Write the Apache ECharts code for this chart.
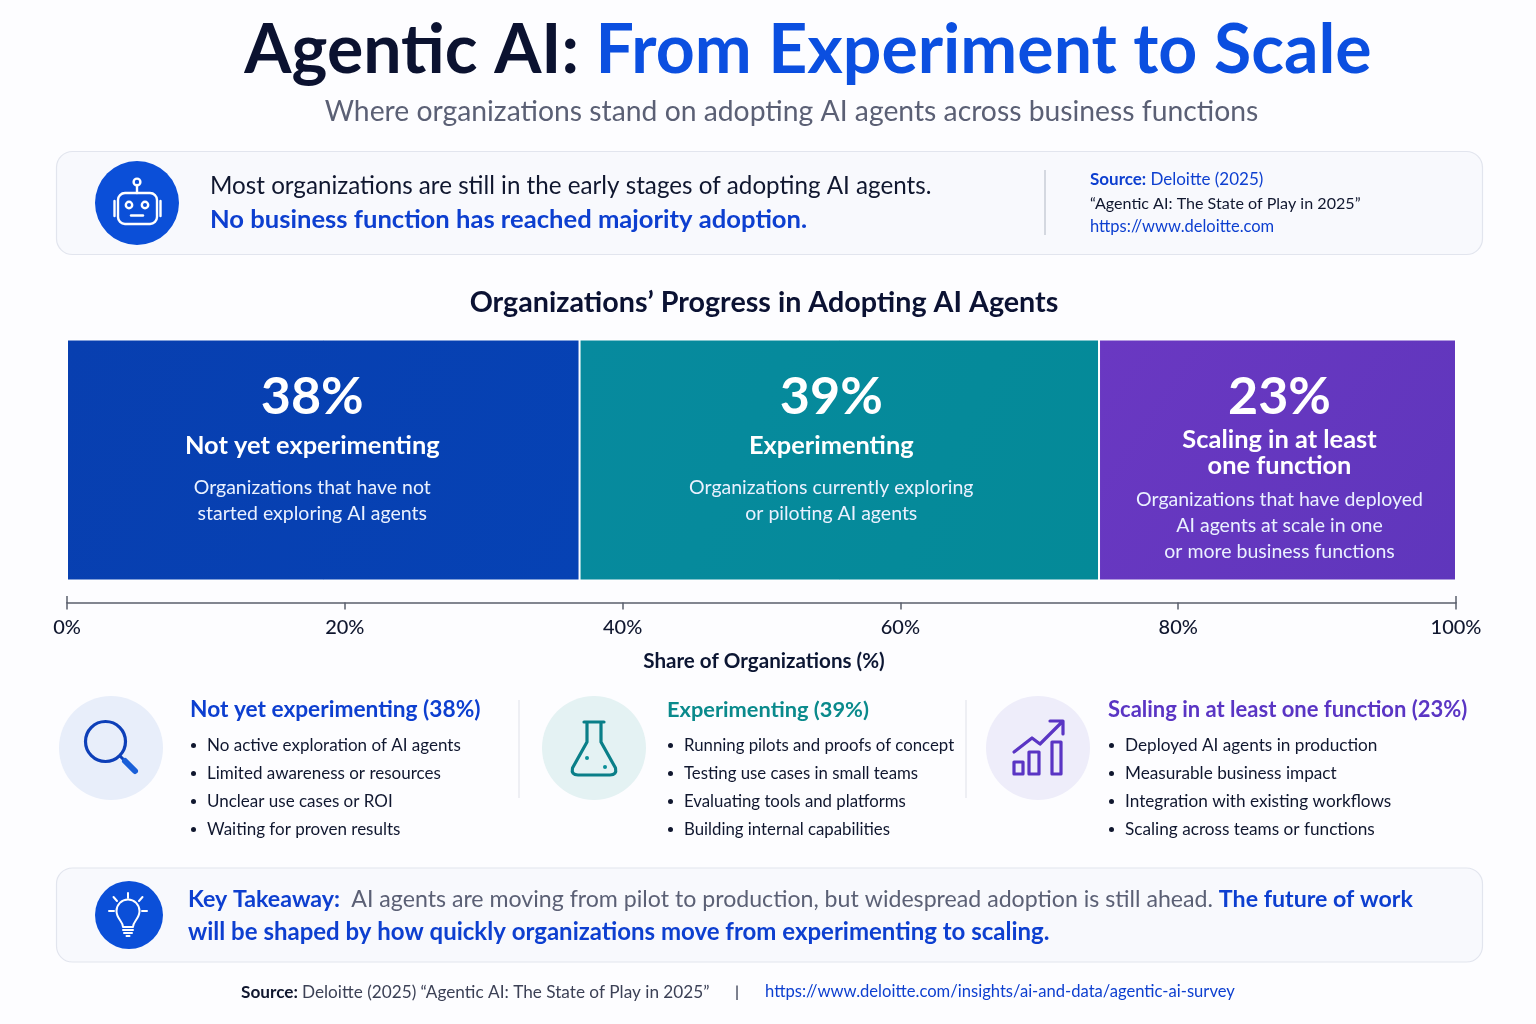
<!DOCTYPE html>
<html><head><meta charset="utf-8">
<style>html,body{margin:0;padding:0;background:#fdfdff}#c{width:1536px;height:1024px}</style>
<script src="https://cdn.jsdelivr.net/npm/echarts@6/dist/echarts.min.js"></script>
</head><body><div id="c"></div>
<script>
// ---- data ----
const categories = ['Not yet experimenting', 'Experimenting', 'Scaling in at least one function'];
const printedShares = [38, 39, 23];               // the percentages printed in the picture
const drawnShares = [36.9, 37.4, 25.7];           // bar lengths as drawn against the picture's axis
const tickValues = [0, 20, 40, 60, 80, 100];
const barNameLines = [['Not yet experimenting'], ['Experimenting'], ['Scaling in at least', 'one function']];
const barDescLines = [
  ['Organizations that have not', 'started exploring AI agents'],
  ['Organizations currently exploring', 'or piloting AI agents'],
  ['Organizations that have deployed', 'AI agents at scale in one', 'or more business functions']
];
const bullets = [
  ['No active exploration of AI agents', 'Limited awareness or resources', 'Unclear use cases or ROI', 'Waiting for proven results'],
  ['Running pilots and proofs of concept', 'Testing use cases in small teams', 'Evaluating tools and platforms', 'Building internal capabilities'],
  ['Deployed AI agents in production', 'Measurable business impact', 'Integration with existing workflows', 'Scaling across teams or functions']
];

const FONT = 'Lato';
const BLUE = '#0b4fe0', DEEP = '#0d3fd0', TEAL = '#0a8a8c', PURPLE = '#5a35c4', GREY = '#5b6075';
const barFill = [
  ['#083fb0', '#0642b4'], ['#078a9e', '#048a98'], ['#6a38c2', '#5f36bc']
];
const fs = (size, weight, fill) => ({ fontFamily: FONT, fontSize: size, fontWeight: weight, fill });
function txt(x, y, text, size, weight, fill, align) {
  return { type: 'text', x, y, silent: true, style: { text, ...fs(size, weight, fill), align: align || 'left', verticalAlign: 'middle' } };
}
function rich(x, y, text, richStyles, align) {
  return { type: 'text', x, y, silent: true, style: { text, fontFamily: FONT, fontSize: 20, rich: richStyles, align: align || 'left', verticalAlign: 'middle' } };
}
const stroke = (c, w) => ({ fill: 'none', stroke: c, lineWidth: w, lineCap: 'round', lineJoin: 'round' });
let pathCount = 0;
function path(d, st) {
  const name = 'iconPath' + (pathCount++);
  echarts.graphic.registerShape(name, echarts.graphic.extendPath(d));
  return { type: name, silent: true, style: st };
}
const circ = (cx, cy, r, st) => ({ type: 'circle', silent: true, shape: { cx, cy, r }, style: st });
const line = (x1, y1, x2, y2, c, w) => ({ type: 'line', silent: true, shape: { x1, y1, x2, y2 }, style: { stroke: c, lineWidth: w } });
const card = (x, y, w, h) => ({ type: 'rect', silent: true, shape: { x, y, width: w, height: h, r: 16 }, style: { fill: '#f8f9fd', stroke: '#e2e5ee', lineWidth: 1.2 } });

const g = [];
// header
g.push(rich(808, 51, '{a|Agentic AI: }{b|From Experiment to Scale}', { a: fs(68, 700, '#0b1230'), b: fs(68, 700, BLUE) }, 'center'));
g.push(txt(791.5, 112, 'Where organizations stand on adopting AI agents across business functions', 28.3, 400, GREY, 'center'));
// top card
g.push(card(56.5, 151.5, 1426, 103));
g.push(circ(137, 203, 42, { fill: '#0b4fd8' }));
const wh = stroke('#ffffff', 2.4);
g.push({ type: 'rect', silent: true, shape: { x: 118, y: 193, width: 39, height: 31, r: 7 }, style: wh });
g.push(path('M114.5 201 V216 M160.5 201 V216 M137 193 V185', wh));
g.push(circ(137, 182, 3.4, wh));
g.push(circ(129, 205, 3.2, wh));
g.push(circ(145, 205, 3.2, wh));
g.push(path('M131 215.5 H143', wh));
g.push(txt(210, 186, 'Most organizations are still in the early stages of adopting AI agents.', 24.2, 400, '#10172f'));
g.push(txt(210, 220, 'No business function has reached majority adoption.', 25.6, 700, DEEP));
g.push(line(1045, 170, 1045, 235, '#c9ccd6', 1.5));
g.push(rich(1090, 180, '{a|Source: }{b|Deloitte (2025)}', { a: fs(17, 700, DEEP), b: fs(17, 400, DEEP) }));
g.push(txt(1090, 204, '\u201CAgentic AI: The State of Play in 2025\u201D', 16.1, 400, '#10172f'));
g.push(txt(1090, 227, 'https://www.deloitte.com', 16.5, 400, DEEP));
// chart title
g.push(txt(764, 303, 'Organizations\u2019 Progress in Adopting AI Agents', 28.7, 700, '#0b1233', 'center'));
// axis end ticks rising above the axis line
g.push(line(67, 596, 67, 603, '#5a5f6c', 1.5));
g.push(line(1456, 596, 1456, 603, '#5a5f6c', 1.5));
// lower columns
const colX = [190, 667, 1108], circX = [111, 594, 1038], circFill = ['#e8eefa', '#e4f2f3', '#eeedfa'], headFill = [DEEP, TEAL, PURPLE], headSize = [22.7, 21.8, 22], bulletSize = [17, 16.8, 17.2];
categories.forEach((c, i) => {
  g.push(circ(circX[i], 748, 52, { fill: circFill[i] }));
  g.push(txt(colX[i], 710, c + ' (' + printedShares[i] + '%)', headSize[i], 700, headFill[i]));
  bullets[i].forEach((b, j) => {
    const y = 745 + j * 28;
    g.push(circ(colX[i] + 3.5, y + 0.5, 2.5, { fill: '#10172f' }));
    g.push(txt(colX[i] + 17, y + 0.5, b, bulletSize[i], 400, '#10172f'));
  });
});
g.push(line(519, 700, 519, 798, '#e8eaf0', 1.5));
g.push(line(966, 700, 966, 798, '#e8eaf0', 1.5));
// magnifier
g.push(circ(105.5, 741.5, 20, stroke('#0d3fb8', 3.2)));
g.push(path('M120 756 L125 761', stroke('#0d3fb8', 3)));
g.push(path('M125 761 L135 771', stroke('#1a5fd8', 6)));
// flask
const ts = stroke('#0a7f88', 3.2);
g.push(path('M584 722 H604 M587 722 V742 L572.5 768 Q571 775 578 775 H610 Q617 775 615.5 768 L601 742 V722', ts));
g.push(circ(587, 758, 2, { fill: '#0a8f98' }));
g.push(circ(605, 767, 2, { fill: '#0a8f98' }));
// growth chart
const ps = stroke(PURPLE, 3.2);
g.push(path('M1014 752 L1032 738 L1040 744 L1062 722 M1050 721 H1063 V734', ps));
g.push({ type: 'rect', silent: true, shape: { x: 1014, y: 762, width: 9, height: 12 }, style: ps });
g.push({ type: 'rect', silent: true, shape: { x: 1029, y: 752, width: 10, height: 22 }, style: ps });
g.push({ type: 'rect', silent: true, shape: { x: 1052, y: 742, width: 9, height: 32 }, style: ps });
// takeaway card
g.push(card(56.5, 868, 1426, 94));
g.push(circ(129, 915, 34, { fill: '#0b4fd8' }));
const bw = stroke('#ffffff', 2);
g.push(path('M123 927 C123 921 116.5 919 116.5 911 A11.5 11.5 0 0 1 139.5 911 C139.5 919 133 921 133 927 Z', bw));
g.push(path('M123 930 H133 M124 933 H132 M126.5 936 H129.5 M128 893 V898 M113.5 897 L117 901 M142.5 897 L139 901 M109 911 H114 M147 911 H142', bw));
g.push(rich(188, 900, '{a|Key Takeaway:  }{b|AI agents are moving from pilot to production, but widespread adoption is still ahead. }{a|The future of work}',
  { a: fs(23.2, 700, DEEP), b: fs(23.15, 400, GREY) }));
g.push(txt(188, 932, 'will be shaped by how quickly organizations move from experimenting to scaling.', 24, 700, DEEP));
// footer
g.push(rich(241, 992, '{a|Source: }{b|Deloitte (2025) \u201CAgentic AI: The State of Play in 2025\u201D}', { a: fs(17.2, 700, '#10172f'), b: fs(17.2, 400, '#3c4156') }));
g.push(txt(737, 992, '|', 16, 400, '#10172f', 'center'));
g.push(txt(765, 992, 'https://www.deloitte.com/insights/ai-and-data/agentic-ai-survey', 16.6, 400, DEEP));

// bar labels
const labelRich = {
  pct: { fontFamily: FONT, fontSize: 52, fontWeight: 700, color: '#fff', lineHeight: 60 },
  name: { fontFamily: FONT, fontSize: 25.4, fontWeight: 700, color: '#fff', lineHeight: 26 },
  name1: { fontFamily: FONT, fontSize: 25.4, fontWeight: 700, color: '#fff', lineHeight: 38 },
  gap: { fontSize: 8, lineHeight: 10 },
  gap3: { fontSize: 6, lineHeight: 8 },
  desc: { fontFamily: FONT, fontSize: 19.5, fontWeight: 400, color: '#eaf1ff', lineHeight: 26 }
};
const labelOffsets = [[-11, -13], [-8, -13], [2, 6]];
const series = categories.map((c, i) => ({
  name: c, type: 'bar', stack: 'all', barWidth: '100%', silent: true,
  data: [drawnShares[i]],
  itemStyle: {
    color: { type: 'linear', x: 0, y: 0, x2: 1, y2: 1, colorStops: [{ offset: 0, color: barFill[i][0] }, { offset: 1, color: barFill[i][1] }] },
    borderColor: '#fff', borderWidth: 1
  },
  label: {
    show: true, position: 'inside', offset: labelOffsets[i], align: 'center', verticalAlign: 'middle',
    formatter: () => {
      const two = barNameLines[i].length > 1;
      return ['{pct|' + printedShares[i] + '%}']
        .concat(barNameLines[i].map(t => '{' + (two ? 'name' : 'name1') + '|' + t + '}'))
        .concat([two ? '{gap3| }' : '{gap| }'])
        .concat(barDescLines[i].map(t => '{desc|' + t + '}')).join('\n');
    },
    rich: labelRich
  }
}));

const chart = echarts.init(document.getElementById('c'), null, { width: 1536, height: 1024, renderer: 'canvas' });
chart.setOption({
  animation: false,
  backgroundColor: '#fdfdff',
  grid: { left: 67, right: 80, top: 339.5, bottom: 1024 - 580.5, containLabel: false },
  xAxis: {
    type: 'value', min: tickValues[0], max: tickValues[tickValues.length - 1], interval: 20,
    position: 'bottom', offset: 22,
    name: 'Share of Organizations (%)', nameLocation: 'middle', nameGap: 48,
    nameTextStyle: { fontFamily: FONT, fontSize: 20.6, fontWeight: 700, color: '#0c1633', padding: [0, 0, 0, 5] },
    axisLine: { show: true, onZero: false, lineStyle: { color: '#5a5f6c', width: 1.5 } },
    axisTick: { show: true, length: 7, lineStyle: { color: '#5a5f6c', width: 1.5 } },
    axisLabel: { formatter: '{value}%', margin: 15, fontFamily: FONT, fontSize: 20, fontWeight: 500, color: '#10172f', showMinLabel: true, showMaxLabel: true, hideOverlap: false },
    splitLine: { show: false }
  },
  yAxis: { type: 'category', data: ['Organizations'], show: false },
  series,
  graphic: { elements: g }
});
</script></body></html>
